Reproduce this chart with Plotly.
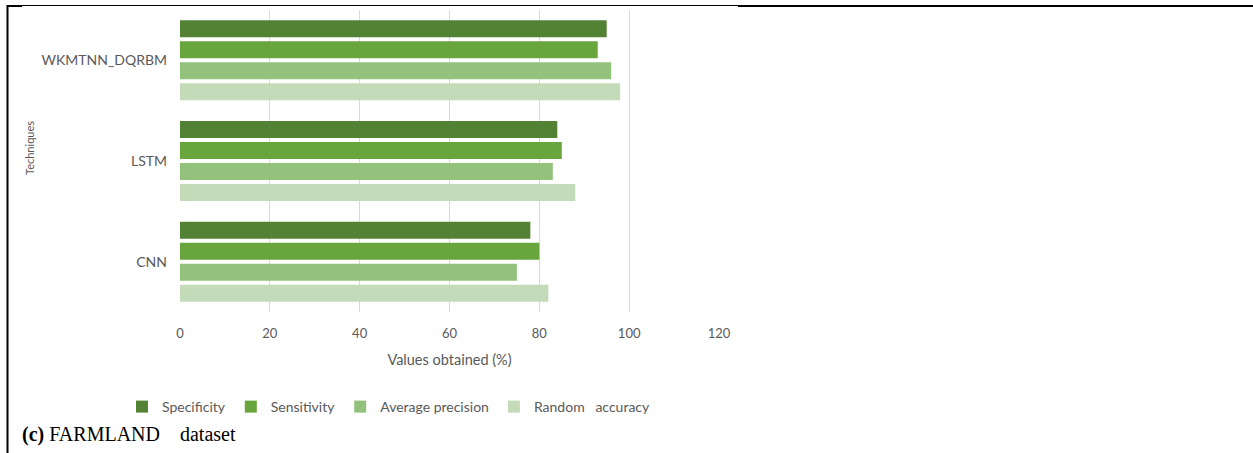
import plotly.graph_objects as go

W, H = 1253, 453

categories = ["WKMTNN_DQRBM", "LSTM", "CNN"]
series_names = ["Specificity", "Sensitivity", "Average precision", "Random\u00a0\u00a0 accuracy"]
specificity = [95, 84, 78]
sensitivity = [93, 85, 80]
average_precision = [96, 83, 75]
random_accuracy = [98, 88, 82]
x_ticks = [0, 20, 40, 60, 80, 100, 120]

colors = ["#548235", "#68a53d", "#93c27d", "#c3dbb8"]
values = [specificity, sensitivity, average_precision, random_accuracy]

FONT = "Lato"
GRAY = "#595959"

def px(x):
    return x / W

def py(y):
    return 1 - y / H

fig = go.Figure()
for name, vals, col in zip(series_names, values, colors):
    fig.add_trace(go.Bar(
        y=categories, x=vals, name=name, orientation="h",
        marker=dict(color=col, line=dict(width=0)),
    ))

shapes = [
    dict(type="line", xref="paper", yref="paper", x0=px(7.5), x1=px(7.5), y0=py(5), y1=0,
         line=dict(color="black", width=2)),
    dict(type="line", xref="paper", yref="paper", x0=px(7), x1=px(738), y0=py(5.5), y1=py(5.5),
         line=dict(color="black", width=1)),
    dict(type="line", xref="paper", yref="paper", x0=px(738), x1=1, y0=py(6), y1=py(6),
         line=dict(color="black", width=2)),
    dict(type="line", xref="paper", yref="paper", x0=px(7), x1=px(22), y0=py(6), y1=py(6),
         line=dict(color="black", width=2)),
]

annotations = [
    dict(text="Techniques", xref="paper", yref="paper", x=px(29), y=py(148), textangle=-90,
         showarrow=False, font=dict(family=FONT, size=11, color=GRAY),
         xanchor="center", yanchor="middle"),
    dict(text="<b>(c)</b> FARMLAND\u00a0\u00a0\u00a0 dataset", xref="paper", yref="paper",
         x=px(20), y=py(434), showarrow=False, xanchor="left", yanchor="middle",
         font=dict(family="Liberation Serif", size=20, color="black")),
]

fig.update_layout(
    width=W, height=H,
    margin=dict(l=0, r=0, t=0, b=0),
    paper_bgcolor="white", plot_bgcolor="white",
    barmode="group", bargap=0.166, bargroupgap=0.19,
    font=dict(family=FONT, color=GRAY),
    xaxis=dict(
        domain=[px(180), px(719)], range=[0, 120], tickvals=x_ticks,
        showgrid=True, gridcolor="#d9d9d9", gridwidth=1, zeroline=False,
        showline=False, ticks="", ticklabelstandoff=12,
        tickfont=dict(family=FONT, size=13, color=GRAY),
        title=dict(text="Values obtained (%)", font=dict(family=FONT, size=14.5, color=GRAY), standoff=14),
        automargin=False,
    ),
    yaxis=dict(
        domain=[py(312), py(10)], categoryorder="array", categoryarray=categories,
        autorange="reversed", showgrid=False, zeroline=False, showline=False,
        ticks="", ticklabelstandoff=12,
        tickfont=dict(family=FONT, size=14, color=GRAY),
        automargin=False,
    ),
    legend=dict(
        orientation="h", x=px(122), xanchor="left", y=py(407), yanchor="middle",
        font=dict(family=FONT, size=14, color=GRAY), itemwidth=30,
        bgcolor="rgba(0,0,0,0)",
    ),
    shapes=shapes, annotations=annotations,
)

fig.write_html("out.html")
